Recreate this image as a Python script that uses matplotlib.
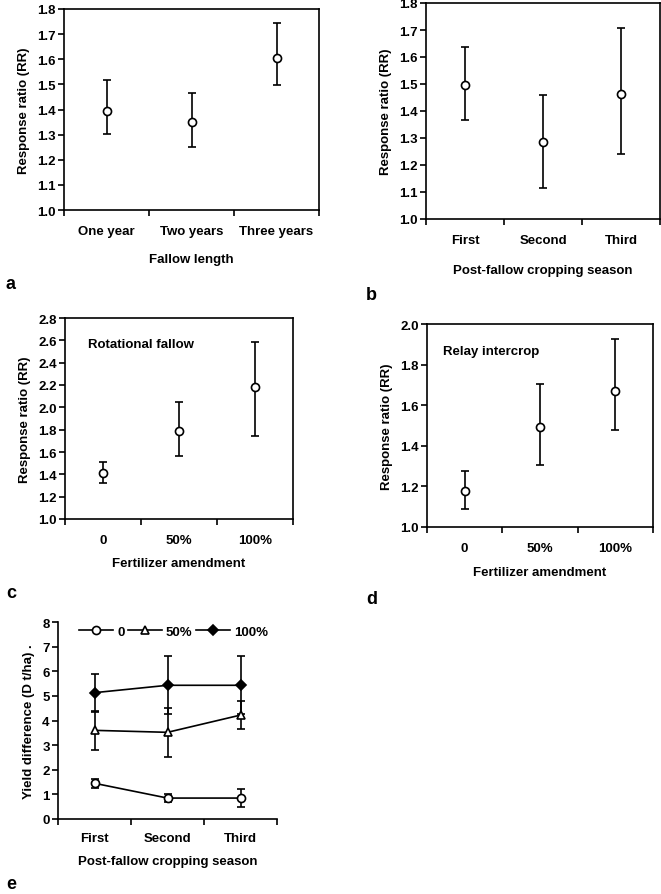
import numpy as np
import matplotlib
matplotlib.use('Agg')
import matplotlib.pyplot as plt
from matplotlib.lines import Line2D

plt.rcParams['font.family'] = ['Liberation Sans', 'DejaVu Sans']
plt.rcParams['font.weight'] = 'bold'
plt.rcParams['font.size'] = 9.5

# panel a - fallow length
fallow_cats = ['One year', 'Two years', 'Three years']
fallow_rr = [1.393, 1.352, 1.603]
fallow_lo = [1.302, 1.251, 1.498]
fallow_hi = [1.517, 1.466, 1.743]

# panel b - post-fallow cropping season
season_cats = ['First', 'Second', 'Third']
season_rr = [1.495, 1.284, 1.464]
season_lo = [1.368, 1.115, 1.242]
season_hi = [1.638, 1.459, 1.706]

# panel c - rotational fallow, fertilizer
fert_cats = ['0', '50%', '100%']
rot_rr = [1.41, 1.788, 2.18]
rot_lo = [1.32, 1.567, 1.746]
rot_hi = [1.513, 2.045, 2.587]

# panel d - relay intercrop, fertilizer
relay_rr = [1.177, 1.495, 1.668]
relay_lo = [1.089, 1.306, 1.478]
relay_hi = [1.276, 1.703, 1.925]

# panel e - yield difference by season and fertilizer level
yd_0 = [1.45, 0.85, 0.85]
yd_0_err = [0.19, 0.16, 0.36]
yd_50 = [3.6, 3.52, 4.22]
yd_50_err = [0.78, 1.0, 0.57]
yd_100 = [5.13, 5.43, 5.43]
yd_100_err = [0.77, 1.17, 1.17]

W, H = 661, 895
fig = plt.figure(figsize=(W / 100, H / 100), dpi=100)

LW = 1.2
MS = 5.8
CAP = 3.0


def box(l, r, t, b):
    return [l / W, 1 - b / H, (r - l) / W, (b - t) / H]


def cat_xaxis(ax, cats, pad):
    ax.set_xlim(0, 3)
    ax.set_xticks([0, 1, 2, 3])
    ax.set_xticklabels([])
    ax.set_xticks([0.5, 1.5, 2.5], minor=True)
    ax.set_xticklabels(cats, minor=True)
    ax.tick_params(axis='x', which='major', direction='out', length=4, width=LW)
    ax.tick_params(axis='x', which='minor', length=0, pad=pad)
    ax.tick_params(axis='y', direction='out', length=4, width=LW, pad=2)
    for s in ax.spines.values():
        s.set_linewidth(LW)


def style_axes(ax, cats, ylim, step, xlabel, lpad):
    ticks = np.arange(ylim[0], ylim[1] + step / 2, step)
    ax.set_ylim(*ylim)
    ax.set_yticks(ticks)
    ax.set_yticklabels(['%.1f' % v for v in ticks])
    cat_xaxis(ax, cats, 11)
    ax.set_xlabel(xlabel, fontweight='bold', labelpad=lpad)
    ax.set_ylabel('Response ratio (RR)', fontweight='bold', labelpad=5)


def rr_points(ax, y, lo, hi):
    x = np.arange(len(y)) + 0.5
    y = np.array(y)
    yerr = [y - np.array(lo), np.array(hi) - y]
    ax.errorbar(x, y, yerr=yerr, fmt='o', color='black', mfc='white',
                mec='black', ms=MS, mew=LW, elinewidth=LW, capsize=CAP,
                capthick=LW)


def panel_letter(x, y, s):
    fig.text(x / W, 1 - y / H, s, fontsize=13, fontweight='bold', va='center')


# a
ax = fig.add_axes(box(64, 319, 10, 211))
rr_points(ax, fallow_rr, fallow_lo, fallow_hi)
style_axes(ax, fallow_cats, (1.0, 1.8), 0.1, 'Fallow length', 11)
panel_letter(6, 285, 'a')

# b
ax = fig.add_axes(box(426, 660, 4, 220))
rr_points(ax, season_rr, season_lo, season_hi)
style_axes(ax, season_cats, (1.0, 1.8), 0.1, 'Post-fallow cropping season', 12.5)
panel_letter(366, 296, 'b')

# c
ax = fig.add_axes(box(65, 293, 319, 520))
rr_points(ax, rot_rr, rot_lo, rot_hi)
style_axes(ax, fert_cats, (1.0, 2.8), 0.2, 'Fertilizer amendment', 8)
ax.text(0.10, 0.87, 'Rotational fallow', transform=ax.transAxes, va='center',
        fontweight='bold')
panel_letter(6, 593, 'c')

# d
ax = fig.add_axes(box(427, 653, 325, 528))
rr_points(ax, relay_rr, relay_lo, relay_hi)
style_axes(ax, fert_cats, (1.0, 2.0), 0.2, 'Fertilizer amendment', 8.5)
ax.text(0.07, 0.867, 'Relay intercrop', transform=ax.transAxes, va='center',
        fontweight='bold')
panel_letter(366, 600, 'd')

# e
ax = fig.add_axes(box(58, 277, 623, 820))
x = np.arange(3) + 0.5
ekw = dict(color='black', mew=LW, elinewidth=LW, capsize=CAP, capthick=LW, lw=LW)
ax.errorbar(x, yd_0, yerr=yd_0_err, fmt='-o', mfc='white', mec='black', ms=MS, **ekw)
ax.errorbar(x, yd_50, yerr=yd_50_err, fmt='-^', mfc='white', mec='black', ms=MS + 0.5, **ekw)
ax.errorbar(x, yd_100, yerr=yd_100_err, fmt='-D', mfc='black', mec='black', ms=MS - 0.8, **ekw)
ax.set_ylim(0, 8)
ax.set_yticks(range(0, 9))
cat_xaxis(ax, season_cats, 9.5)
ax.spines['top'].set_visible(False)
ax.spines['right'].set_visible(False)
ax.set_xlabel('Post-fallow cropping season', fontweight='bold', labelpad=8)
ax.set_ylabel('Yield difference (D t/ha) .', fontweight='bold', labelpad=5)
handles = [
    Line2D([], [], color='black', lw=LW, marker='o', mfc='white', ms=MS, mew=LW),
    Line2D([], [], color='black', lw=LW, marker='^', mfc='white', ms=MS + 0.5, mew=LW),
    Line2D([], [], color='black', lw=LW, marker='D', mfc='black', ms=MS - 0.8, mew=LW),
]
ax.legend(handles, ['0', '50%', '100%'], loc='center left',
          bbox_to_anchor=(0.095, 0.95), ncol=3, frameon=False,
          handlelength=2.6, handletextpad=0.3, columnspacing=0.25,
          borderaxespad=0, borderpad=0)
panel_letter(6, 885, 'e')

fig.savefig('out.png', dpi=100)
